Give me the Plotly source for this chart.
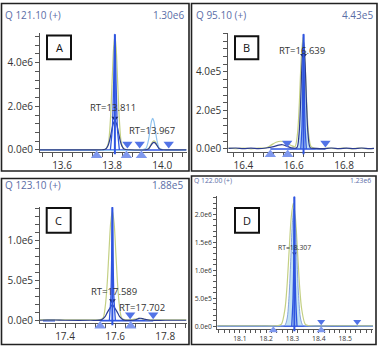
import plotly.graph_objects as go

W, H = 380, 352

# ---------------- Panel A : Q 121.10 (+) ----------------
A_title = "Q 121.10 (+)"
A_maxlabel = "1.30e6"
A_letter = "A"
A_rt = [13.811, 13.967]
A_rt_text = ["RT=13.811", "RT=13.967"]
A_xticks = [13.6, 13.8, 14.0]
A_xticktext = ["13.6", "13.8", "14.0"]
A_yticks = [0, 2e6, 4e6]
A_yticktext = ["0.0e0", "2.0e6", "4.0e6"]
A_qual_x = [13.512, 13.760, 13.775, 13.785, 13.793, 13.800, 13.806, 13.811, 13.816, 13.822,
            13.829, 13.837, 13.847, 13.862, 13.930, 13.945, 13.955, 13.962, 13.967, 13.972,
            13.979, 13.989, 14.004, 14.097]
A_qual_y = [0.02e6, 0.02e6, 0.05e6, 0.32e6, 1.36e6, 3.15e6, 4.69e6, 5.2e6, 4.69e6, 3.15e6,
            1.36e6, 0.32e6, 0.05e6, 0.02e6, 0.02e6, 0.06e6, 0.25e6, 0.38e6, 0.42e6, 0.38e6,
            0.25e6, 0.06e6, 0.02e6, 0.02e6]
A_navy_x = [13.512, 13.760, 13.773, 13.783, 13.790, 13.797, 13.804, 13.811, 13.818, 13.825,
            13.832, 13.839, 13.849, 13.870, 13.930, 13.945, 13.955, 13.962, 13.967, 13.972,
            13.979, 13.989, 14.004, 14.097]
A_navy_y = [0.01e6, 0.01e6, 0.03e6, 0.18e6, 0.44e6, 0.82e6, 1.19e6, 1.35e6, 1.19e6, 0.82e6,
            0.44e6, 0.18e6, 0.03e6, 0.01e6, 0.01e6, 0.05e6, 0.21e6, 0.32e6, 0.35e6, 0.32e6,
            0.21e6, 0.05e6, 0.01e6, 0.01e6]
A_light_x = [13.512, 13.920, 13.935, 13.945, 13.952, 13.957, 13.962, 13.967, 13.972, 13.979,
             13.989, 14.004, 14.097]
A_light_y = [0.01e6, 0.01e6, 0.07e6, 0.44e6, 0.96e6, 1.31e6, 1.45e6, 1.31e6, 0.96e6, 0.44e6,
             0.07e6, 0.01e6, 0.01e6]
A_peak_x = [13.793, 13.801, 13.806, 13.811, 13.816, 13.821, 13.829]
A_peak_y = [0, 1.0e6, 3.0e6, 5.3e6, 3.0e6, 1.0e6, 0]
A_down_x = [13.861, 13.910, 14.026]
A_up_x = [13.738, 13.857, 13.917]
A_apex_y = 1.45e6
A_fill = None
A_base = [13.512, 14.097]

# ---------------- Panel B : Q 95.10 (+) ----------------
B_title = "Q 95.10 (+)"
B_maxlabel = "4.43e5"
B_letter = "B"
B_rt = [16.639]
B_rt_text = ["RT=16.639"]
B_xticks = [16.4, 16.6, 16.8]
B_xticktext = ["16.4", "16.6", "16.8"]
B_yticks = [0, 2e5, 4e5]
B_yticktext = ["0.0e0", "2.0e5", "4.0e5"]
B_qual_x = [16.34, 16.37, 16.40, 16.43, 16.46, 16.49, 16.51, 16.53, 16.55, 16.57, 16.59,
            16.605, 16.615, 16.622, 16.630, 16.637, 16.644, 16.652, 16.659, 16.669, 16.684,
            16.71, 16.74, 16.77, 16.80, 16.83, 16.86, 16.89, 16.919]
B_qual_y = [0.04e5, 0.02e5, 0.05e5, 0.01e5, 0.04e5, 0.06e5, 0.2e5, 0.35e5, 0.4e5, 0.32e5, 0.18e5,
            0.12e5, 0.8e5, 2.3e5, 4.75e5, 5.8e5, 4.75e5, 2.3e5, 0.8e5, 0.12e5, 0.03e5,
            0.02e5, 0.05e5, 0.02e5, 0.04e5, 0.01e5, 0.05e5, 0.02e5, 0.03e5]
B_navy_x = [16.34, 16.37, 16.40, 16.43, 16.46, 16.49, 16.52, 16.54, 16.555, 16.57, 16.59,
            16.612, 16.621, 16.627, 16.633, 16.639, 16.645, 16.651, 16.657, 16.666, 16.69,
            16.72, 16.75, 16.78, 16.81, 16.84, 16.87, 16.90, 16.919]
B_navy_y = [0.03e5, 0.05e5, 0.02e5, 0.04e5, 0.02e5, 0.05e5, 0.12e5, 0.2e5, 0.22e5, 0.16e5, 0.06e5,
            0.06e5, 0.76e5, 2.3e5, 4.5e5, 5.6e5, 4.5e5, 2.3e5, 0.76e5, 0.06e5, 0.03e5,
            0.02e5, 0.05e5, 0.02e5, 0.04e5, 0.02e5, 0.05e5, 0.02e5, 0.03e5]
B_light_x = []
B_light_y = []
B_peak_x = [16.628, 16.633, 16.636, 16.639, 16.642, 16.645, 16.650]
B_peak_y = [0, 1.2e5, 3.2e5, 5.95e5, 3.2e5, 1.2e5, 0]
B_down_x = [16.574, 16.726]
B_up_x = [16.507, 16.576]
B_apex_y = 4.85e5
B_fill = [16.574, 16.726]
B_base = [16.507, 16.726]

# ---------------- Panel C : Q 123.10 (+) ----------------
C_title = "Q 123.10 (+)"
C_maxlabel = "1.88e5"
C_letter = "C"
C_rt = [17.589, 17.702]
C_rt_text = ["RT=17.589", "RT=17.702"]
C_xticks = [17.4, 17.6, 17.8]
C_xticktext = ["17.4", "17.6", "17.8"]
C_yticks = [0, 5e5, 1e6]
C_yticktext = ["0.0e0", "5.0e5", "1.0e6"]
C_qual_x = [17.30, 17.45, 17.52, 17.540, 17.552, 17.561, 17.568, 17.575, 17.582, 17.589,
            17.596, 17.603, 17.610, 17.617, 17.626, 17.638, 17.66, 17.68, 17.695, 17.71,
            17.73, 17.80, 17.885]
C_qual_y = [0.1e5, 0.1e5, 0.1e5, 0.12e5, 0.35e5, 1.9e5, 4.5e5, 8.4e5, 12.2e5, 13.8e5,
            12.2e5, 8.4e5, 4.5e5, 1.9e5, 0.35e5, 0.12e5, 0.1e5, 0.2e5, 0.3e5, 0.2e5,
            0.1e5, 0.1e5, 0.1e5]
C_navy_x = [17.30, 17.33, 17.36, 17.40, 17.50, 17.545, 17.560, 17.570, 17.580, 17.589,
            17.598, 17.608, 17.618, 17.633, 17.67, 17.685, 17.695, 17.702, 17.71, 17.72,
            17.74, 17.80, 17.885]
C_navy_y = [0.05e5, 0.08e5, 0.08e5, 0.05e5, 0.05e5, 0.1e5, 0.5e5, 1.1e5, 1.6e5, 2.0e5,
            1.6e5, 1.1e5, 0.5e5, 0.1e5, 0.05e5, 0.15e5, 0.28e5, 0.3e5, 0.26e5, 0.15e5,
            0.05e5, 0.05e5, 0.05e5]
C_light_x = []
C_light_y = []
C_peak_x = [17.577, 17.583, 17.586, 17.589, 17.592, 17.595, 17.601]
C_peak_y = [0, 3.0e5, 7.5e5, 14.2e5, 7.5e5, 3.0e5, 0]
C_down_x = [17.660, 17.752]
C_up_x = [17.540, 17.662]
C_apex_y = 2.5e5
C_fill = None
C_base = [17.540, 17.752]

# ---------------- Panel D : Q 122.00 (+) ----------------
D_title = "Q 122.00 (+)"
D_maxlabel = "1.23e6"
D_letter = "D"
D_rt = [18.307]
D_rt_text = ["RT=18.307"]
D_xticks = [18.1, 18.2, 18.3, 18.4, 18.5]
D_xticktext = ["18.1", "18.2", "18.3", "18.4", "18.5"]
D_yticks = [0, 5e5, 1e6, 1.5e6, 2e6]
D_yticktext = ["0.0e0", "5.0e5", "1.0e6", "1.5e6", "2.0e6"]
D_qual_x = [18.014, 18.20, 18.245, 18.258, 18.271, 18.279, 18.287, 18.295, 18.303, 18.311,
            18.319, 18.327, 18.335, 18.348, 18.36, 18.45, 18.606]
D_qual_y = [0.01e6, 0.01e6, 0.01e6, 0.04e6, 0.30e6, 0.71e6, 1.34e6, 1.94e6, 2.2e6, 1.94e6,
            1.34e6, 0.71e6, 0.30e6, 0.04e6, 0.01e6, 0.01e6, 0.01e6]
D_navy_x = []
D_navy_y = []
D_light_x = [18.014, 18.20, 18.269, 18.279, 18.287, 18.293, 18.299, 18.305, 18.311, 18.317,
             18.323, 18.331, 18.341, 18.40, 18.606]
D_light_y = [0.005e6, 0.005e6, 0.01e6, 0.13e6, 0.55e6, 1.16e6, 1.81e6, 2.1e6, 1.81e6, 1.16e6,
             0.55e6, 0.13e6, 0.01e6, 0.005e6, 0.005e6]
D_peak_x = [18.297, 18.302, 18.305, 18.307, 18.309, 18.312, 18.317]
D_peak_y = [0, 0.5e6, 1.2e6, 2.32e6, 1.2e6, 0.5e6, 0]
D_down_x = [18.409, 18.546]
D_up_x = [18.227, 18.409]
D_apex_y = 1.3e6
D_fill = [18.227, 18.546]
D_base = [18.014, 18.606]

QUAL = "#c4d084"
NAVY = "#2b3b8f"
LIGHT = "#8fc3ef"
BLUE = "#2f55e0"
FILLC = "rgba(170,214,240,0.7)"
TRI_DOWN = "#5273e6"
TRI_UP = "#7f98ee"
TITLE_C = "#5a6da6"
TEXT_C = "#333333"
AXIS_C = "#555555"
FONT = "Open Sans"

panels = [
    dict(title=A_title, maxl=A_maxlabel, letter=A_letter, rt=A_rt, rt_text=A_rt_text,
         lab_pos=[(13.803, 1.93e6), (13.958, 0.89e6)],
         xt=A_xticks, xtt=A_xticktext, yt=A_yticks, ytt=A_yticktext,
         qx=A_qual_x, qy=A_qual_y, nx=A_navy_x, ny=A_navy_y, lx=A_light_x, ly=A_light_y,
         px_=A_peak_x, py_=A_peak_y, down=A_down_x, up=A_up_x, apex=A_apex_y, fill=A_fill,
         base=A_base,
         xd=(40, 186.5), yd=(33, 154), xr=(13.512, 14.097), yr=(-0.104e6, 5.37e6),
         xminor=0.04, yminor=0.4e6, fs=10, tri=9,
         frame=(1.5, 3.5, 189, 173), box=(47, 36, 71, 60),
         title_pos=(3, 15, 186)),
    dict(title=B_title, maxl=B_maxlabel, letter=B_letter, rt=B_rt, rt_text=B_rt_text,
         lab_pos=[(16.632, 5.11e5)],
         xt=B_xticks, xtt=B_xticktext, yt=B_yticks, ytt=B_yticktext,
         qx=B_qual_x, qy=B_qual_y, nx=B_navy_x, ny=B_navy_y, lx=B_light_x, ly=B_light_y,
         px_=B_peak_x, py_=B_peak_y, down=B_down_x, up=B_up_x, apex=B_apex_y, fill=B_fill,
         base=B_base,
         xd=(228.3, 374), yd=(33, 154), xr=(16.34, 16.919), yr=(-0.17e5, 6.04e5),
         xminor=0.04, yminor=0.4e5, fs=10, tri=9,
         frame=(191.5, 3.5, 377, 173), box=(235, 36.7, 258.3, 60),
         title_pos=(194, 15, 375)),
    dict(title=C_title, maxl=C_maxlabel, letter=C_letter, rt=C_rt, rt_text=C_rt_text,
         lab_pos=[(17.594, 0.363e6), (17.709, 0.165e6)],
         xt=C_xticks, xtt=C_xticktext, yt=C_yticks, ytt=C_yticktext,
         qx=C_qual_x, qy=C_qual_y, nx=C_navy_x, ny=C_navy_y, lx=C_light_x, ly=C_light_y,
         px_=C_peak_x, py_=C_peak_y, down=C_down_x, up=C_up_x, apex=C_apex_y, fill=C_fill,
         base=C_base,
         xd=(40, 186.5), yd=(209.3, 327), xr=(17.30, 17.885), yr=(-0.033e6, 1.425e6),
         xminor=0.04, yminor=1e5, fs=10, tri=9,
         frame=(1.5, 180.5, 189, 348.5), box=(46.7, 210.3, 70.7, 235.3),
         title_pos=(3, 187, 185)),
    dict(title=D_title, maxl=D_maxlabel, letter=D_letter, rt=D_rt, rt_text=D_rt_text,
         lab_pos=[(18.309, 1.41e6)],
         xt=D_xticks, xtt=D_xticktext, yt=D_yticks, ytt=D_yticktext,
         qx=D_qual_x, qy=D_qual_y, nx=D_navy_x, ny=D_navy_y, lx=D_light_x, ly=D_light_y,
         px_=D_peak_x, py_=D_peak_y, down=D_down_x, up=D_up_x, apex=D_apex_y, fill=D_fill,
         base=D_base,
         xd=(217.3, 373), yd=(198.7, 333), xr=(18.014, 18.606), yr=(-0.053e6, 2.32e6),
         xminor=0.02, yminor=1e5, fs=6.8, tri=7,
         frame=(191.5, 178, 376, 348.5), box=(235, 210.3, 259, 235.3),
         title_pos=(192, 182.7, 373)),
]

fig = go.Figure()
shapes = []
annotations = []


def pxx(x):
    return x / W


def pxy(y):
    return 1 - y / H


EXT = 16  # extra pixels below plot for the boundary markers overlay

for i, p in enumerate(panels):
    n = "" if i == 0 else str(i + 1)
    xa, ya = "x" + n, "y" + n
    no = str(i + 5)
    xo, yo = "x" + no, "y" + no
    dy = (p["yr"][1] - p["yr"][0]) / (p["yd"][1] - p["yd"][0])

    def tr(xaxis=xa, yaxis=ya, **kw):
        kw.setdefault("hoverinfo", "skip")
        kw.setdefault("showlegend", False)
        fig.add_trace(go.Scatter(xaxis=xaxis, yaxis=yaxis, **kw))

    # integrated fill
    if p["fill"] is not None:
        srcx = p["lx"] if p["lx"] else p["nx"]
        srcy = p["ly"] if p["ly"] else p["ny"]
        fx = [p["fill"][0]] + [x for x in srcx if p["fill"][0] < x < p["fill"][1]] + [p["fill"][1]]
        fy = [0] + [y for x, y in zip(srcx, srcy) if p["fill"][0] < x < p["fill"][1]] + [0]
        tr(x=fx, y=fy, mode="lines", line=dict(width=0, shape="spline", smoothing=0.8),
           fill="tozeroy", fillcolor=FILLC)
    # baseline
    tr(x=p["base"], y=[0, 0], mode="lines", line=dict(color=BLUE if i != 3 else "#7d9be6", width=1.6))
    if i == 3:
        tr(x=[D_fill[0], D_fill[1]], y=[0, 0], mode="lines", line=dict(color=BLUE, width=1.2))
    if i == 2:
        tr(x=[17.312, 17.36], y=[0.01e5, 0.01e5], mode="lines", line=dict(color=BLUE, width=2))
    # qualifier trace
    tr(x=p["qx"], y=p["qy"], mode="lines", line=dict(color=QUAL, width=1.2, shape="spline", smoothing=0.8))
    if p["lx"]:
        tr(x=p["lx"], y=p["ly"], mode="lines",
           line=dict(color=LIGHT if i != 3 else "#6f8fd8", width=1.2 if i != 3 else 0.8,
                     shape="spline", smoothing=0.8))
    if p["nx"]:
        tr(x=p["nx"], y=p["ny"], mode="lines", line=dict(color=NAVY, width=1.2, shape="spline", smoothing=0.8))
    # narrow quant peak
    tr(x=p["px_"], y=p["py_"], mode="lines", line=dict(color=BLUE, width=1.3, shape="spline", smoothing=0.6))
    # apex marker
    tr(x=[p["rt"][0]], y=[p["apex"]], mode="markers",
       marker=dict(symbol="triangle-down", size=6 if i != 3 else 4, color="#1e2a6e"))

    # overlay axes (same scale, extended below) for markers hanging below the axis
    yr_o = [p["yr"][0] - EXT * dy, p["yr"][1]]
    # RT line
    tr(xaxis=xo, yaxis=yo, x=[p["rt"][0], p["rt"][0]], y=[p["yr"][0] - 2 * dy, max(p["py_"])],
       mode="lines", line=dict(color=BLUE, width=2))
    off = 6 if i != 3 else 4.5
    tr(xaxis=xo, yaxis=yo, x=p["down"], y=[off * dy] * len(p["down"]), mode="markers",
       marker=dict(symbol="triangle-down", size=p["tri"], color=TRI_DOWN, line=dict(width=0)))
    tr(xaxis=xo, yaxis=yo, x=p["up"], y=[-(off - 0.5) * dy] * len(p["up"]), mode="markers",
       marker=dict(symbol="triangle-up", size=p["tri"] + 1, color=TRI_UP, line=dict(width=0)))

    axis_common = dict(showline=True, linecolor=AXIS_C, linewidth=1, ticks="outside", ticklen=4,
                       tickwidth=1, tickcolor=AXIS_C, showgrid=False, zeroline=False,
                       tickmode="array", tickfont=dict(family=FONT, size=p["fs"], color=TEXT_C),
                       fixedrange=True, layer="below traces")
    fig.layout["xaxis" + n] = dict(
        axis_common, domain=[pxx(p["xd"][0]), pxx(p["xd"][1])], range=list(p["xr"]),
        anchor=ya, tickvals=p["xt"], ticktext=p["xtt"],
        ticklen=4 if i != 3 else 3,
        minor=dict(dtick=p["xminor"], tick0=p["xt"][0], ticks="outside",
                   ticklen=4 if i != 3 else 3, tickcolor=AXIS_C, showgrid=False))
    fig.layout["yaxis" + n] = dict(
        axis_common, domain=[pxy(p["yd"][1]), pxy(p["yd"][0])], range=list(p["yr"]),
        anchor=xa, tickvals=p["yt"], ticktext=p["ytt"],
        ticklen=4 if i != 3 else 3,
        minor=dict(dtick=p["yminor"], tick0=0, ticks="outside",
                   ticklen=4 if i != 3 else 3, tickcolor=AXIS_C, showgrid=False))
    fig.layout["xaxis" + no] = dict(domain=[pxx(p["xd"][0]), pxx(p["xd"][1])], range=list(p["xr"]),
                                    anchor=yo, visible=False, fixedrange=True)
    fig.layout["yaxis" + no] = dict(domain=[pxy(p["yd"][1] + EXT), pxy(p["yd"][0])], range=yr_o,
                                    anchor=xo, visible=False, fixedrange=True)

    # RT labels
    for (lx, ly), t in zip(p["lab_pos"], p["rt_text"]):
        annotations.append(dict(x=lx, y=ly, xref=xa, yref=ya, text=t, showarrow=False,
                                font=dict(family=FONT, size=9.5 if i != 3 else 6.8, color=TEXT_C),
                                xanchor="center", yanchor="middle"))
    # titles
    tx, tyy, txr = p["title_pos"]
    tfs = 10 if i != 3 else 6.8
    annotations.append(dict(x=pxx(tx), y=pxy(tyy), xref="paper", yref="paper", text=p["title"],
                            showarrow=False, xanchor="left", yanchor="middle",
                            font=dict(family=FONT, size=tfs, color=TITLE_C)))
    annotations.append(dict(x=pxx(txr), y=pxy(tyy), xref="paper", yref="paper", text=p["maxl"],
                            showarrow=False, xanchor="right", yanchor="middle",
                            font=dict(family=FONT, size=tfs, color=TITLE_C)))
    # frame
    fx0, fy0, fx1, fy1 = p["frame"]
    shapes.append(dict(type="rect", xref="paper", yref="paper", x0=pxx(fx0), x1=pxx(fx1),
                       y0=pxy(fy1), y1=pxy(fy0), line=dict(color="#222222", width=1.6)))
    # letter box
    bx0, by0, bx1, by1 = p["box"]
    shapes.append(dict(type="rect", xref="paper", yref="paper", x0=pxx(bx0), x1=pxx(bx1),
                       y0=pxy(by1), y1=pxy(by0), line=dict(color="#111111", width=2),
                       fillcolor="white", layer="above"))
    annotations.append(dict(x=pxx((bx0 + bx1) / 2), y=pxy((by0 + by1) / 2), xref="paper",
                            yref="paper", text=p["letter"], showarrow=False,
                            xanchor="center", yanchor="middle",
                            font=dict(family=FONT, size=11, color="#111111")))

fig.update_layout(width=W, height=H, margin=dict(l=0, r=0, t=0, b=0),
                  paper_bgcolor="white", plot_bgcolor="rgba(0,0,0,0)",
                  shapes=shapes, annotations=annotations, showlegend=False)

fig.write_html("out.html", include_plotlyjs=True, config={"displayModeBar": False})
